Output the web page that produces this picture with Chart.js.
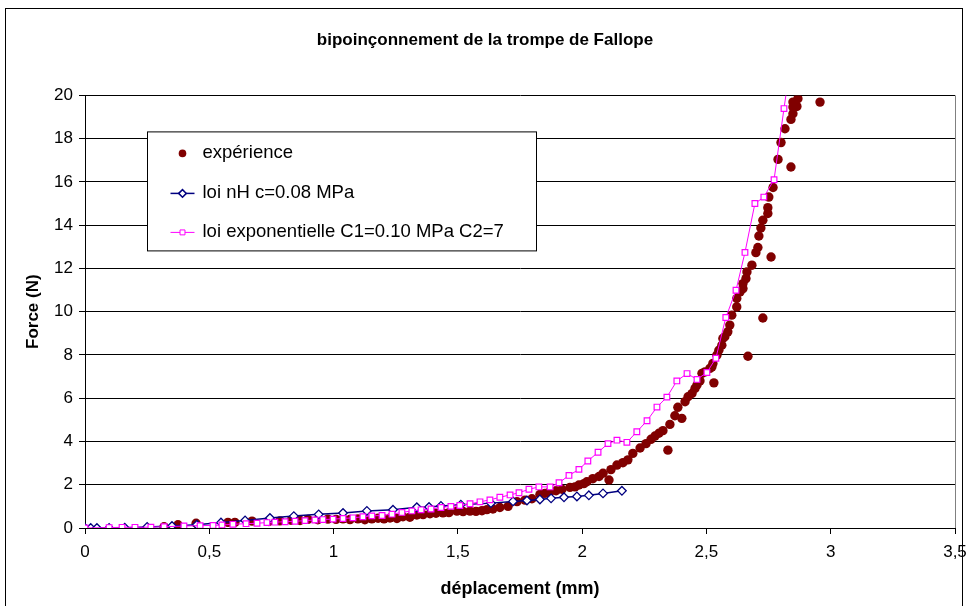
<!DOCTYPE html>
<html>
<head>
<meta charset="utf-8">
<title>bipoinçonnement de la trompe de Fallope</title>
<script src="https://cdn.jsdelivr.net/npm/chart.js@4/dist/chart.umd.min.js"></script>
<style>
  html, body { margin: 0; padding: 0; background: #fff; }
  #wrap { width: 970px; height: 606px; }
</style>
</head>
<body>
<div id="wrap"><canvas id="chart" width="970" height="606"></canvas></div>
<script>
// données : déplacement (mm) / force (N)
var expX = [0.318, 0.374, 0.447, 0.575, 0.603, 0.672, 0.740, 0.784, 0.829, 0.865, 0.897, 0.937, 0.977, 1.010, 1.038, 1.066, 1.098, 1.126, 1.154, 1.179, 1.203, 1.227, 1.255, 1.279, 1.307, 1.335, 1.360, 1.388, 1.412, 1.440, 1.464, 1.496, 1.521, 1.549, 1.573, 1.597, 1.617, 1.641, 1.669, 1.702, 1.738, 1.770, 1.798, 1.830, 1.850, 1.871, 1.895, 1.919, 1.951, 1.971, 1.987, 2.007, 2.019, 2.043, 2.068, 2.084, 2.108, 2.116, 2.140, 2.164, 2.184, 2.204, 2.233, 2.257, 2.277, 2.293, 2.309, 2.325, 2.345, 2.353, 2.373, 2.385, 2.401, 2.414, 2.426, 2.442, 2.454, 2.462, 2.474, 2.482, 2.494, 2.514, 2.522, 2.526, 2.530, 2.542, 2.550, 2.562, 2.566, 2.574, 2.586, 2.594, 2.602, 2.622, 2.622, 2.635, 2.647, 2.647, 2.659, 2.663, 2.667, 2.683, 2.699, 2.707, 2.711, 2.719, 2.727, 2.727, 2.747, 2.747, 2.751, 2.760, 2.768, 2.788, 2.800, 2.816, 2.840, 2.840, 2.848, 2.848, 2.848, 2.864, 2.868, 2.957];
var expY = [0.06, 0.15, 0.22, 0.26, 0.26, 0.32, 0.30, 0.33, 0.36, 0.35, 0.40, 0.38, 0.41, 0.40, 0.42, 0.39, 0.42, 0.38, 0.42, 0.45, 0.42, 0.46, 0.44, 0.52, 0.50, 0.60, 0.62, 0.66, 0.68, 0.70, 0.71, 0.78, 0.76, 0.78, 0.77, 0.80, 0.85, 0.88, 0.95, 1.00, 1.22, 1.29, 1.35, 1.55, 1.60, 1.68, 1.72, 1.79, 1.88, 1.90, 1.99, 2.05, 2.14, 2.28, 2.38, 2.53, 2.22, 2.70, 2.91, 3.02, 3.15, 3.45, 3.70, 3.90, 4.10, 4.25, 4.38, 4.50, 3.60, 4.79, 5.19, 5.58, 5.07, 5.84, 6.07, 6.22, 6.45, 6.61, 6.80, 7.15, 7.22, 7.38, 7.45, 7.61, 6.71, 7.99, 8.22, 8.45, 8.76, 8.84, 9.07, 9.38, 9.84, 10.22, 10.61, 10.91, 11.07, 11.30, 11.53, 11.84, 7.94, 12.15, 12.73, 12.97, 13.50, 13.87, 9.71, 14.23, 14.54, 14.81, 15.30, 12.53, 15.74, 17.04, 17.82, 18.46, 18.89, 16.69, 19.15, 19.46, 19.69, 19.49, 19.85, 19.69];

var nhX = [0, 0.023, 0.048, 0.097, 0.16, 0.25, 0.35, 0.45, 0.547, 0.644, 0.744, 0.84, 0.94, 1.038, 1.134, 1.239, 1.335, 1.384, 1.432, 1.512, 1.633, 1.722, 1.778, 1.83, 1.875, 1.927, 1.979, 2.027, 2.084, 2.16];
var nhY = [0, 0, 0, 0, 0.01, 0.05, 0.09, 0.15, 0.25, 0.35, 0.46, 0.55, 0.63, 0.69, 0.79, 0.84, 0.96, 0.97, 1.02, 1.08, 1.15, 1.23, 1.27, 1.32, 1.37, 1.42, 1.46, 1.51, 1.60, 1.72];

var expoX = [0, 0.097, 0.149, 0.201, 0.265, 0.318, 0.398, 0.463, 0.515, 0.551, 0.595, 0.648, 0.692, 0.732, 0.764, 0.805, 0.845, 0.885, 0.925, 0.957, 0.998, 1.038, 1.078, 1.118, 1.154, 1.195, 1.235, 1.275, 1.315, 1.352, 1.392, 1.432, 1.472, 1.508, 1.549, 1.589, 1.629, 1.669, 1.710, 1.746, 1.786, 1.826, 1.871, 1.907, 1.947, 1.987, 2.023, 2.064, 2.104, 2.140, 2.180, 2.220, 2.261, 2.301, 2.341, 2.381, 2.422, 2.462, 2.502, 2.538, 2.578, 2.619, 2.655, 2.695, 2.731, 2.772, 2.812, 2.852];
var expoY = [0, 0.02, 0.03, 0.03, 0.04, 0.06, 0.09, 0.11, 0.12, 0.14, 0.17, 0.20, 0.22, 0.25, 0.27, 0.29, 0.31, 0.34, 0.37, 0.39, 0.41, 0.44, 0.47, 0.52, 0.56, 0.58, 0.64, 0.72, 0.79, 0.84, 0.88, 0.95, 1.00, 1.04, 1.12, 1.21, 1.30, 1.42, 1.53, 1.63, 1.79, 1.90, 1.90, 2.09, 2.43, 2.71, 3.10, 3.50, 3.90, 4.06, 3.96, 4.45, 4.96, 5.59, 6.05, 6.80, 7.14, 6.87, 7.19, 7.85, 9.73, 10.99, 12.74, 15.00, 15.30, 16.10, 19.39, 22.60];

var xTicks = [0, 0.5, 1, 1.5, 2, 2.5, 3, 3.5];
var yTicks = [0, 2, 4, 6, 8, 10, 12, 14, 16, 18, 20];

var seriesNames = ['expérience', 'loi nH c=0.08 MPa', 'loi exponentielle C1=0.10 MPa C2=7'];

function pts(xs, ys){
  var out = [];
  for(var i=0;i<xs.length;i++) out.push({x: xs[i], y: ys[i]});
  return out;
}

var FONT = "'Liberation Sans', Arial, sans-serif";

// cadre extérieur, bord droit du tracé et légende dessinée à la main
var decor = {
  id: 'decor',
  beforeDraw: function(chart){
    var ctx = chart.ctx;
    ctx.save();
    ctx.fillStyle = '#fff';
    ctx.fillRect(0, 0, chart.width, chart.height);
    ctx.restore();
  },
  afterDraw: function(chart){
    var ctx = chart.ctx, a = chart.chartArea;
    ctx.save();
    ctx.strokeStyle = '#000';
    ctx.lineWidth = 1;
    ctx.strokeRect(5.5, 8.5, 957, 640);

    ctx.strokeStyle = '#808080';
    ctx.beginPath();
    ctx.moveTo(Math.round(a.right) + 0.5, a.top);
    ctx.lineTo(Math.round(a.right) + 0.5, a.bottom);
    ctx.stroke();

    // légende
    var lx = a.left + 62.5, ly = a.top + 36.5, lw = 389, lh = 119;
    ctx.fillStyle = '#fff';
    ctx.fillRect(lx, ly, lw, lh);
    ctx.strokeStyle = '#000';
    ctx.strokeRect(lx, ly, lw, lh);

    ctx.font = '18.5px ' + FONT;
    ctx.textBaseline = 'middle';
    var ds = chart.data.datasets;
    var rows = [ly + 21.5, ly + 61.5, ly + 100.5];
    var mx = lx + 35;
    for(var i=0;i<ds.length;i++){
      var d = ds[i], yy = rows[i];
      if(d.showLine){
        ctx.strokeStyle = d.borderColor;
        ctx.lineWidth = d.borderWidth;
        ctx.beginPath();
        ctx.moveTo(mx - 12, yy);
        ctx.lineTo(mx + 12, yy);
        ctx.stroke();
      }
      ctx.fillStyle = d.pointBackgroundColor;
      ctx.strokeStyle = d.pointBorderColor;
      Chart.helpers.drawPoint(ctx, {
        pointStyle: d.pointStyle,
        radius: d.showLine ? d.pointRadius - 0.5 : 3.8,
        rotation: 0,
        borderWidth: d.pointBorderWidth
      }, mx, yy);
      ctx.fillStyle = '#000';
      ctx.fillText(d.label, lx + 55, yy);
    }
    ctx.restore();
  }
};

var ctx = document.getElementById('chart').getContext('2d');
var chart = new Chart(ctx, {
  type: 'scatter',
  data: {
    datasets: [
      {
        label: seriesNames[0],
        data: pts(expX, expY),
        pointStyle: 'circle',
        pointRadius: 4.7,
        pointBackgroundColor: '#800000',
        pointBorderColor: '#800000',
        pointBorderWidth: 0,
        showLine: false,
        order: 2
      },
      {
        label: seriesNames[1],
        data: pts(nhX, nhY),
        showLine: true,
        borderColor: '#000080',
        borderWidth: 1.5,
        tension: 0,
        pointStyle: 'rectRot',
        pointRadius: 4.3,
        pointBackgroundColor: '#fff',
        pointBorderColor: '#000080',
        pointBorderWidth: 1.3,
        order: 1
      },
      {
        label: seriesNames[2],
        data: pts(expoX, expoY),
        showLine: true,
        borderColor: '#ff00ff',
        borderWidth: 1,
        tension: 0,
        pointStyle: 'rect',
        pointRadius: 4,
        pointBackgroundColor: '#fff',
        pointBorderColor: '#ff00ff',
        pointBorderWidth: 1.2,
        order: 0
      }
    ]
  },
  options: {
    responsive: false,
    animation: false,
    devicePixelRatio: 1,
    layout: { padding: { left: 15, right: 15, top: 0, bottom: 0 } },
    plugins: {
      legend: { display: false },
      tooltip: { enabled: false },
      title: {
        display: true,
        text: 'bipoinçonnement de la trompe de Fallope',
        color: '#000',
        font: { family: FONT, size: 17, weight: 'bold' },
        padding: { top: 30, bottom: 45 }
      }
    },
    scales: {
      x: {
        type: 'linear',
        min: 0,
        max: 3.5,
        afterFit: function(s){ s.height = 78; s.paddingLeft = 0; s.paddingRight = 0; },
        afterBuildTicks: function(s){ s.ticks = xTicks.map(function(v){ return {value: v}; }); },
        ticks: {
          color: '#000',
          padding: 8,
          font: { family: FONT, size: 17 },
          callback: function(v){ return String(v).replace('.', ','); }
        },
        grid: { drawOnChartArea: false, drawTicks: true, tickLength: 6, color: '#000' },
        border: { display: true, color: '#000', width: 1 },
        title: {
          display: true,
          text: 'déplacement (mm)',
          color: '#000',
          font: { family: FONT, size: 18, weight: 'bold' },
          padding: { top: 0, bottom: 6 }
        }
      },
      y: {
        type: 'linear',
        min: 0,
        max: 20,
        afterFit: function(s){ s.width = 70; },
        afterBuildTicks: function(s){ s.ticks = yTicks.map(function(v){ return {value: v}; }); },
        ticks: {
          color: '#000',
          padding: 6,
          font: { family: FONT, size: 17 }
        },
        grid: { color: '#000', lineWidth: 1, drawTicks: true, tickLength: 6 },
        border: { display: true, color: '#000', width: 1 },
        title: {
          display: true,
          text: 'Force (N)',
          color: '#000',
          font: { family: FONT, size: 17, weight: 'bold' },
          padding: { top: 8, bottom: 0 }
        }
      }
    }
  },
  plugins: [decor]
});
</script>
</body>
</html>
